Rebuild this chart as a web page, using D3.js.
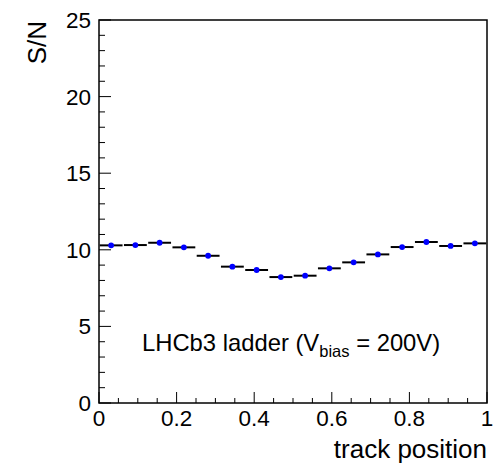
<!DOCTYPE html>
<html>
<head>
<meta charset="utf-8">
<script src="https://cdn.jsdelivr.net/npm/d3@7"></script>
<style>
body { margin: 0; background: #fff; }
svg text { font-family: "Liberation Sans", Arial, sans-serif; }
</style>
</head>
<body>
<div id="plot"></div>
<script>
// low edges of the 16 track position bins over 0..1
const binLow = [0, 0.0625, 0.125, 0.1875, 0.25, 0.3125, 0.375, 0.4375,
                0.5, 0.5625, 0.625, 0.6875, 0.75, 0.8125, 0.875, 0.9375];
const binWidth = 0.0625;
const snValues = [10.29, 10.31, 10.46, 10.16, 9.61, 8.90, 8.68, 8.22,
                  8.31, 8.79, 9.18, 9.70, 10.18, 10.51, 10.25, 10.42];
const xTickLabels = ["0", "0.2", "0.4", "0.6", "0.8", "1"];
const yTickLabels = ["0", "5", "10", "15", "20", "25"];

var dimension = {
    width: 496,
    height: 465,
    margin: { top: 20, left: 99, bottom: 62, right: 9 }
}
dimension.boundedWidth = dimension.width - dimension.margin.left - dimension.margin.right;
dimension.boundedHeight = dimension.height - dimension.margin.top - dimension.margin.bottom;

const svg = d3.select("#plot").append("svg")
    .attr("width", dimension.width)
    .attr("height", dimension.height);

const bounded = svg.append("g")
    .attr("transform", `translate(${dimension.margin.left},${dimension.margin.top})`);

// scalers
const xScaler = d3.scaleLinear().domain([0, 1]).range([0, dimension.boundedWidth]);
const yScaler = d3.scaleLinear().domain([0, 25]).range([dimension.boundedHeight, 0]);

// frame
bounded.append("rect")
    .attr("width", dimension.boundedWidth)
    .attr("height", dimension.boundedHeight)
    .attr("fill", "none")
    .attr("stroke", "#000")
    .attr("stroke-width", 1.5);

// x axis ticks: major 0.2, minor 0.05
const xMinor = d3.range(0, 21).map(d => d * 0.05);
bounded.append("g").selectAll("line").data(xMinor).join("line")
    .attr("x1", d => xScaler(d)).attr("x2", d => xScaler(d))
    .attr("y1", dimension.boundedHeight)
    .attr("y2", (d, i) => dimension.boundedHeight - (i % 4 == 0 ? 11 : 5))
    .attr("stroke", "#000").attr("stroke-width", 1);

bounded.append("g").selectAll("text").data(xTickLabels).join("text")
    .attr("x", d => xScaler(+d))
    .attr("y", dimension.boundedHeight + 22.5)
    .attr("text-anchor", "middle")
    .attr("font-size", 22.5)
    .text(d => d);

// y axis ticks: major 5, minor 1
const yMinor = d3.range(0, 26);
bounded.append("g").selectAll("line").data(yMinor).join("line")
    .attr("y1", d => yScaler(d)).attr("y2", d => yScaler(d))
    .attr("x1", 0)
    .attr("x2", d => (d % 5 == 0 ? 12 : 6))
    .attr("stroke", "#000").attr("stroke-width", 1);

bounded.append("g").selectAll("text").data(yTickLabels).join("text")
    .attr("x", -8)
    .attr("y", d => yScaler(+d) + 8)
    .attr("text-anchor", "end")
    .attr("font-size", 22.5)
    .text(d => d);

// axis titles
svg.append("text")
    .attr("x", dimension.margin.left + dimension.boundedWidth)
    .attr("y", 458)
    .attr("text-anchor", "end")
    .attr("font-size", 26)
    .text("track position");

svg.append("text")
    .attr("transform", `translate(46,${dimension.margin.top + 1}) rotate(-90)`)
    .attr("text-anchor", "end")
    .attr("font-size", 26)
    .text("S/N");

// horizontal error bars (bin width)
bounded.append("g").selectAll("line").data(snValues).join("line")
    .attr("x1", (d, i) => xScaler(binLow[i]) + 0.7)
    .attr("x2", (d, i) => xScaler(binLow[i] + binWidth) - 0.7)
    .attr("y1", d => yScaler(d))
    .attr("y2", d => yScaler(d))
    .attr("stroke", "#000")
    .attr("stroke-width", 2);

// markers
bounded.append("g").selectAll("circle").data(snValues).join("circle")
    .attr("cx", (d, i) => xScaler(binLow[i] + binWidth / 2))
    .attr("cy", d => yScaler(d))
    .attr("r", 2.9)
    .attr("fill", "#0000ff");

// label
const label = svg.append("text")
    .attr("x", 142)
    .attr("y", 351)
    .attr("font-size", 23.8);
label.append("tspan").text("LHCb3 ladder (V");
label.append("tspan").attr("font-size", 16.5).attr("dy", 6).text("bias");
label.append("tspan").attr("dy", -6).text(" = 200V)");
</script>
</body>
</html>
